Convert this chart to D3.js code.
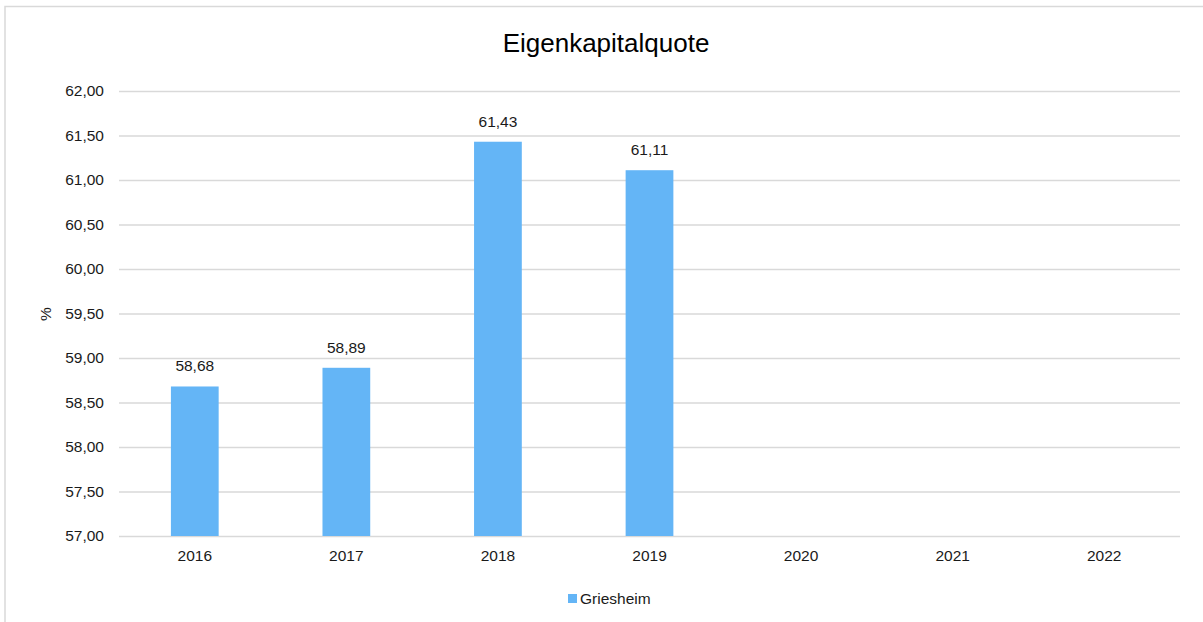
<!DOCTYPE html>
<html>
<head>
<meta charset="utf-8">
<script src="https://cdn.jsdelivr.net/npm/d3@7"></script>
<style>
  body { margin: 0; background: #fff; font-family: "Liberation Sans", Arial, sans-serif; }
  .grid line { stroke: #d9d9d9; stroke-width: 1.3; }
  .grid .domain { display: none; }
  .axis .domain, .axis line { display: none; }
  .axis text { font-size: 15.5px; fill: #1a1a1a; font-family: "Liberation Sans", Arial, sans-serif; }
</style>
</head>
<body>
<div id="chart"></div>
<script>
var years = ['2016', '2017', '2018', '2019', '2020', '2021', '2022'];
var griesheim = [58.68, 58.89, 61.43, 61.11, null, null, null];
var yTicks = [57, 57.5, 58, 58.5, 59, 59.5, 60, 60.5, 61, 61.5, 62];
var seriesName = 'Griesheim';
var chartTitle = 'Eigenkapitalquote';

var fullWidth = 1203, fullHeight = 622;
var margin = {top: 91, right: 23, bottom: 86, left: 119};
var width = fullWidth - margin.left - margin.right;
var height = fullHeight - margin.top - margin.bottom;

var fmt = function(v) { return d3.format('.2f')(v).replace('.', ','); };

var svg = d3.select('#chart')
  .append('svg')
  .attr('width', fullWidth)
  .attr('height', fullHeight);

// chart frame
svg.append('rect')
  .attr('x', 5).attr('y', 6.5)
  .attr('width', fullWidth).attr('height', fullHeight)
  .attr('fill', 'none')
  .attr('stroke', '#d9d9d9')
  .attr('stroke-width', 1.5);

svg.append('text')
  .attr('x', 606).attr('y', 52)
  .attr('text-anchor', 'middle')
  .style('font-size', '26px')
  .style('fill', '#000')
  .text(chartTitle);

var g = svg.append('g')
  .attr('transform', `translate(${margin.left},${margin.top})`);

var xScale = d3.scaleBand()
  .domain(years)
  .range([0, width])
  .paddingInner(0.685)
  .paddingOuter(0.3425);

var yScale = d3.scaleLinear()
  .domain([57, 62])
  .range([height, 0]);

g.append('g')
  .attr('class', 'grid')
  .call(d3.axisLeft(yScale).tickValues(yTicks).tickSize(-width).tickFormat(''));

g.append('g')
  .attr('class', 'axis y')
  .call(d3.axisLeft(yScale).tickValues(yTicks).tickSize(0).tickPadding(15).tickFormat(fmt));

g.append('g')
  .attr('class', 'axis x')
  .attr('transform', `translate(0,${height})`)
  .call(d3.axisBottom(xScale).tickSize(0).tickPadding(14));

var data = years.map(function(y, i) { return {year: y, value: griesheim[i]}; })
  .filter(function(d) { return d.value != null; });

g.selectAll('rect.bar')
  .data(data)
  .enter()
    .append('rect')
    .attr('class', 'bar')
    .attr('x', function(d) { return xScale(d.year); })
    .attr('y', function(d) { return yScale(d.value); })
    .attr('width', xScale.bandwidth())
    .attr('height', function(d) { return height - yScale(d.value); })
    .attr('fill', '#64b5f6');

g.selectAll('text.label')
  .data(data)
  .enter()
    .append('text')
    .attr('class', 'label')
    .attr('x', function(d) { return xScale(d.year) + xScale.bandwidth() / 2; })
    .attr('y', function(d) { return yScale(d.value) - 15; })
    .attr('text-anchor', 'middle')
    .style('font-size', '15.5px')
    .style('fill', '#1a1a1a')
    .text(function(d) { return fmt(d.value); });

// y axis title
svg.append('text')
  .attr('transform', 'translate(51,314) rotate(-90)')
  .attr('text-anchor', 'middle')
  .style('font-size', '15.5px')
  .style('fill', '#1a1a1a')
  .text('%');

// legend
var legend = svg.append('g').attr('transform', 'translate(568,594)');
legend.append('rect')
  .attr('width', 9).attr('height', 9)
  .attr('fill', '#64b5f6');
legend.append('text')
  .attr('x', 12).attr('y', 9.5)
  .style('font-size', '15.5px')
  .style('fill', '#1a1a1a')
  .text(seriesName);
</script>
</body>
</html>
